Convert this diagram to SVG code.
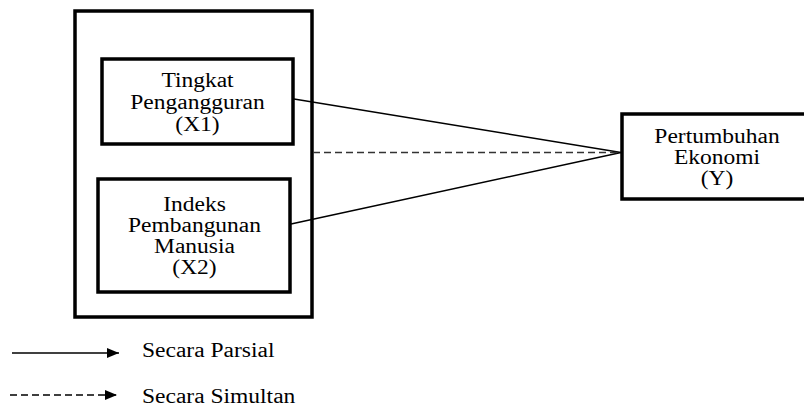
<svg xmlns="http://www.w3.org/2000/svg" width="804" height="409" viewBox="0 0 804 409">
<defs>
<style>
.box{fill:#fff;stroke:#000;stroke-width:3.5}
.t{font-family:"Liberation Serif","Times New Roman",serif;font-size:20px;fill:#000}
.c{text-anchor:middle}
.ln{stroke:#000;stroke-width:1.5;fill:none}
.dash{stroke:#333;stroke-width:1.5;fill:none;stroke-dasharray:7,4}
</style>
<marker id="ah" viewBox="0 0 12 10" refX="12" refY="5" markerWidth="12" markerHeight="10" markerUnits="userSpaceOnUse" orient="auto">
<path d="M0,0 L12,5 L0,10 z" fill="#000"/>
</marker>
</defs>
<rect width="804" height="409" fill="#fff"/>
<g id="group-x">
<rect class="box" x="75" y="11" width="237" height="306"/>
</g>
<g id="x1">
<rect class="box" x="102" y="59" width="191" height="85"/>
<g transform="translate(197.5,0) scale(1.175,1)">
<text class="t c" x="0" y="87">Tingkat</text>
<text class="t c" x="0" y="109">Pengangguran</text>
<text class="t c" x="0" y="131">(X1)</text>
</g>
</g>
<g id="x2">
<rect class="box" x="98" y="179" width="192" height="113"/>
<g transform="translate(194.5,0) scale(1.175,1)">
<text class="t c" x="0" y="211">Indeks</text>
<text class="t c" x="0" y="232">Pembangunan</text>
<text class="t c" x="0" y="253">Manusia</text>
<text class="t c" x="0" y="274">(X2)</text>
</g>
</g>
<g id="y">
<rect class="box" x="622" y="114" width="192" height="85"/>
<g transform="translate(717,0) scale(1.175,1)">
<text class="t c" x="0" y="143">Pertumbuhan</text>
<text class="t c" x="0" y="164">Ekonomi</text>
<text class="t c" x="0" y="185">(Y)</text>
</g>
</g>
<g id="connectors">
<line class="ln" x1="294" y1="99" x2="621" y2="152.5"/>
<line class="ln" x1="291" y1="224" x2="621" y2="152.5"/>
<line class="dash" x1="313" y1="152.5" x2="621" y2="152.5"/>
</g>
<g id="legend">
<line class="ln" x1="12" y1="353" x2="119" y2="353" marker-end="url(#ah)"/>
<line class="dash" x1="10" y1="395" x2="117" y2="395" style="stroke:#000" marker-end="url(#ah)"/>
<g transform="translate(142,0) scale(1.175,1)">
<text class="t" x="0" y="357">Secara Parsial</text>
<text class="t" x="0" y="403">Secara Simultan</text>
</g>
</g>
</svg>
